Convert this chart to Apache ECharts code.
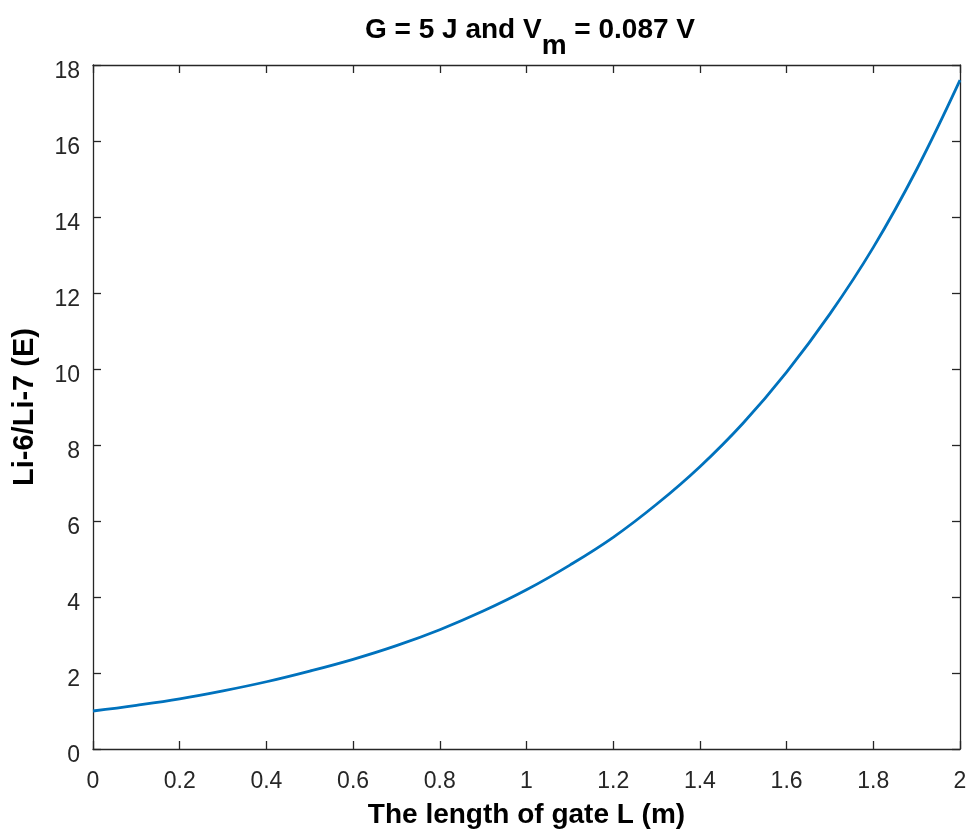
<!DOCTYPE html>
<html>
<head>
<meta charset="utf-8">
<script src="https://cdn.jsdelivr.net/npm/echarts@6/dist/echarts.min.js"></script>
<style>
  html, body { margin: 0; padding: 0; background: #fff; }
  #chart { width: 970px; height: 834px; }
</style>
</head>
<body>
<div id="chart"></div>
<script>
// Gate length L (m)
const gateLength = [0, 0.1, 0.2, 0.3, 0.4, 0.5, 0.6, 0.7, 0.8, 0.9, 1.0,
                    1.1, 1.2, 1.3, 1.4, 1.5, 1.6, 1.7, 1.8, 1.9, 2.0];
// Li-6/Li-7 enrichment ratio E
const ratioE = [1.0, 1.15, 1.32, 1.53, 1.77, 2.05, 2.36, 2.72, 3.14, 3.63, 4.19,
                4.84, 5.57, 6.44, 7.43, 8.58, 9.92, 11.45, 13.2, 15.25, 17.6];
const xTicks = [0, 0.2, 0.4, 0.6, 0.8, 1, 1.2, 1.4, 1.6, 1.8, 2];
const yTicks = [0, 2, 4, 6, 8, 10, 12, 14, 16, 18];

const axisColor = '#262626';
const fontFam = '"Liberation Sans", Arial, Helvetica, sans-serif';

const chart = echarts.init(document.getElementById('chart'), null, { renderer: 'canvas' });

const baseAxis = {
  axisLine: { show: true, onZero: false, lineStyle: { color: axisColor, width: 1.3 } },
  axisTick: { show: true, inside: true, length: 8, lineStyle: { color: axisColor, width: 1.3 } },
  splitLine: { show: false }
};

chart.setOption({
  backgroundColor: '#ffffff',
  animation: false,
  title: {
    text: '{t|G = 5 J and V}{s|m}{t| = 0.087 V}',
    left: 525, top: 11,
    textAlign: 'center',
    textStyle: {
      rich: {
        t: { fontFamily: fontFam, fontWeight: 'bold', fontSize: 28, color: '#000', verticalAlign: 'top', lineHeight: 34 },
        s: { fontFamily: fontFam, fontWeight: 'bold', fontSize: 28, color: '#000', verticalAlign: 'top', lineHeight: 34, padding: [16, 0, 0, 0] }
      }
    }
  },
  grid: { left: 93, right: 10, top: 65, bottom: 84, containLabel: false },
  xAxis: [
    Object.assign({}, baseAxis, {
      type: 'value', min: 0, max: 2, interval: 0.2, position: 'bottom',
      name: 'The length of gate L (m)', nameLocation: 'middle', nameGap: 52,
      nameTextStyle: { fontFamily: fontFam, fontWeight: 'bold', fontSize: 28, color: '#000' },
      axisLabel: {
        margin: 21, fontFamily: fontFam, fontSize: 23, color: axisColor,
        customValues: xTicks,
        formatter: v => String(+v.toFixed(1))
      },
      axisTick: Object.assign({}, baseAxis.axisTick, { customValues: xTicks })
    }),
    Object.assign({}, baseAxis, {
      type: 'value', min: 0, max: 2, interval: 0.2, position: 'top',
      axisLabel: { show: false },
      axisTick: Object.assign({}, baseAxis.axisTick, { customValues: xTicks })
    })
  ],
  yAxis: [
    Object.assign({}, baseAxis, {
      type: 'value', min: 0, max: 18, interval: 2, position: 'left',
      name: 'Li-6/Li-7 (E)', nameLocation: 'middle', nameGap: 54, nameRotate: 90,
      nameTextStyle: { fontFamily: fontFam, fontWeight: 'bold', fontSize: 29, color: '#000' },
      axisLabel: {
        margin: 13, color: axisColor,
        customValues: yTicks,
        formatter: v => '{n|' + v + '}',
        rich: {
          n: { fontFamily: fontFam, fontSize: 23, color: axisColor, lineHeight: 23, padding: [14, 0, 0, 0] }
        }
      },
      axisTick: Object.assign({}, baseAxis.axisTick, { customValues: yTicks })
    }),
    Object.assign({}, baseAxis, {
      type: 'value', min: 0, max: 18, interval: 2, position: 'right',
      axisLabel: { show: false },
      axisTick: Object.assign({}, baseAxis.axisTick, { customValues: yTicks })
    })
  ],
  series: [{
    type: 'line',
    xAxisIndex: 0,
    yAxisIndex: 0,
    data: gateLength.map((x, i) => [x, ratioE[i]]),
    smooth: 0.4,
    showSymbol: false,
    lineStyle: { color: '#0072BD', width: 2.8 },
    clip: true
  }]
});
</script>
</body>
</html>
